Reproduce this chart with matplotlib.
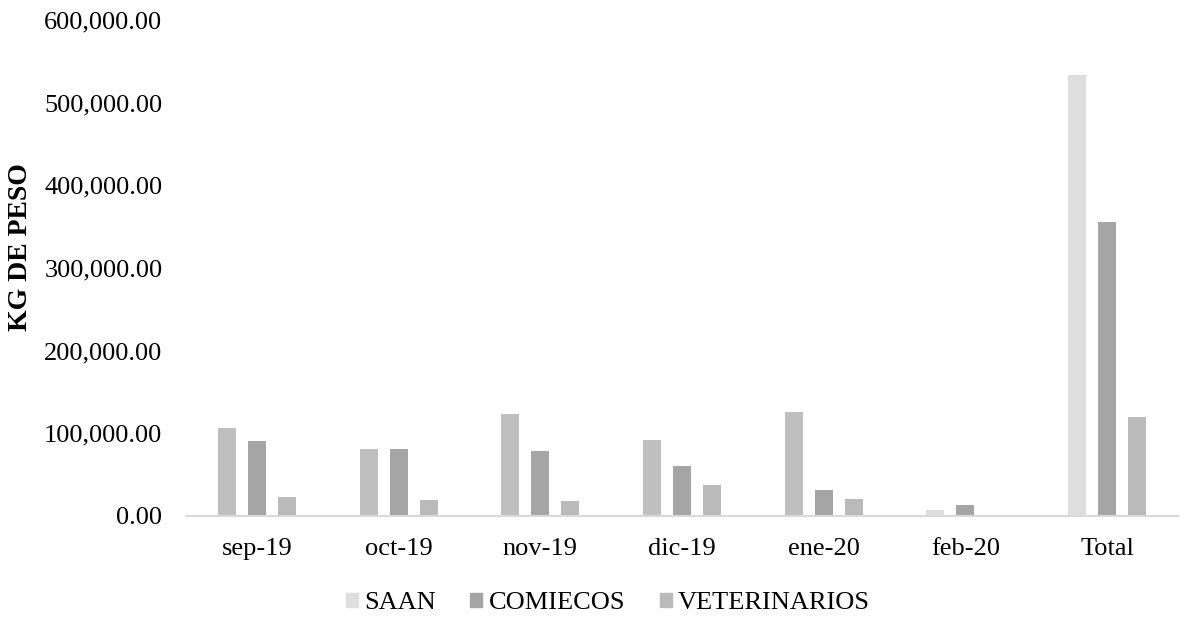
import matplotlib
matplotlib.use("Agg")
import matplotlib.pyplot as plt
from matplotlib.patches import Patch
from matplotlib.ticker import FuncFormatter
import numpy as np

categories = ["sep-19", "oct-19", "nov-19", "dic-19", "ene-20", "feb-20", "Total"]
saan = [106000, 80700, 123500, 91600, 125300, 6800, 533000]
comiecos = [91200, 80700, 79000, 60200, 31000, 12900, 355800]
veterinarios = [23300, 18900, 18000, 37300, 20100, 500, 119300]
series_names = ["SAAN", "COMIECOS", "VETERINARIOS"]

plt.rcParams['font.family'] = ['Liberation Serif', 'DejaVu Serif']

fig = plt.figure(figsize=(11.8, 6.2), dpi=100)
ax = fig.add_axes([186/1180, 104/620, 992/1180, 496/620])

x = np.arange(len(categories))
w = 0.127
off = 0.212
saan_colors = ["#BFBFBF"] * 5 + ["#DEDEDE", "#DEDEDE"]
ax.bar(x - off, saan, w, color=saan_colors, zorder=2)
ax.bar(x, comiecos, w, color="#A5A5A5", zorder=2)
ax.bar(x + off, veterinarios, w, color="#BABABA", zorder=2)

ax.set_xlim(-0.5, len(categories) - 0.5)
ax.set_ylim(0, 600000)
ax.set_yticks(np.arange(0, 600001, 100000))
ax.yaxis.set_major_formatter(FuncFormatter(lambda v, p: f"{v:,.2f}"))
ax.set_xticks(x)
ax.set_xticklabels(categories)
ax.tick_params(axis='both', length=0, labelsize=19, colors="#000000")
ax.tick_params(axis='y', pad=17)
ax.tick_params(axis='x', pad=16)
for s in ["top", "right", "left"]:
    ax.spines[s].set_visible(False)
ax.spines["bottom"].set_color("#D9D9D9")
ax.spines["bottom"].set_linewidth(1.5)

ax.set_ylabel("KG DE PESO", fontsize=20, fontweight="bold")
ax.yaxis.set_label_coords((33 - 186)/992, (516 - 247)/496)

handles = [Patch(color="#DEDEDE"), Patch(color="#A5A5A5"), Patch(color="#BABABA")]
fig.legend(handles, series_names, loc="center", bbox_to_anchor=(608/1180, 1 - 603/620),
           ncol=3, frameon=False, fontsize=19, handlelength=0.45, handleheight=0.45,
           handletextpad=0.25, columnspacing=1.3, borderpad=0)

fig.savefig("out.png", dpi=100)
